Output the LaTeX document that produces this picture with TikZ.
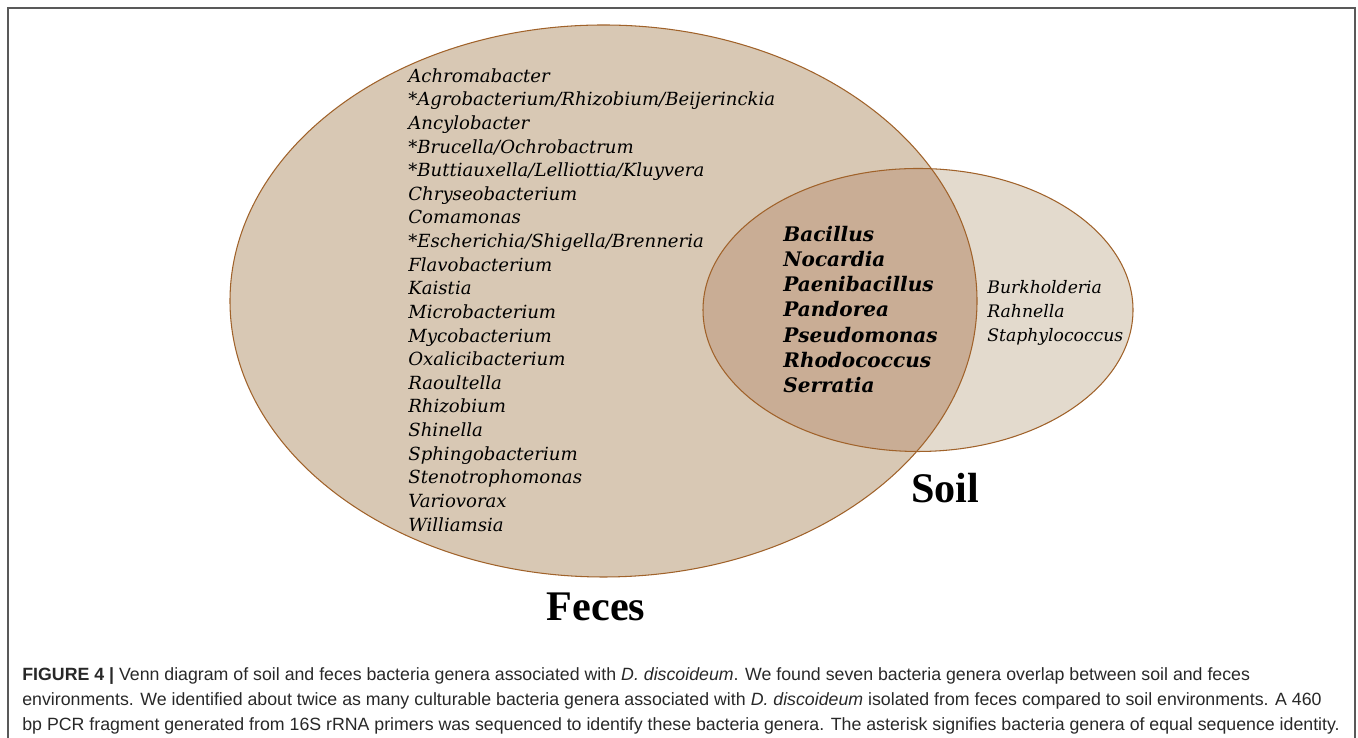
\documentclass[tikz,border=0pt]{standalone}
\usepackage{fontspec}
\setmainfont{DejaVu Serif}
\newfontfamily\capfont{Liberation Sans}
\newfontfamily\labfont{Liberation Serif}
\usepackage{xcolor}
\usepackage{tikz}
\usetikzlibrary{positioning}

\definecolor{fecesfill}{RGB}{216,200,180}
\definecolor{soilfill}{RGB}{227,218,205}
\definecolor{bothfill}{RGB}{201,173,149}
\definecolor{rimbrown}{RGB}{160,98,42}
\definecolor{captext}{RGB}{40,40,40}

\begin{document}
\begin{tikzpicture}[
		rim/.style={draw=rimbrown, line width=0.6pt},
		genus/.style={anchor=north west, inner sep=0pt, align=left,
			font=\fontsize{10.3}{13.45}\selectfont\itshape},
		shared/.style={anchor=north west, inner sep=0pt, align=left,
			font=\fontsize{11.4}{14.3}\selectfont\bfseries\itshape},
		setname/.style={inner sep=0pt, font=\labfont\fontsize{24}{24}\selectfont\bfseries}
		]
		
		\useasboundingbox (0,0) rectangle (27.16,14.76);
		
		% Frame
		\draw[gray!70!black, line width=1pt] (0.16,0) -- (0.16,14.6) -- (27.1,14.6) -- (27.1,0);
		
		% Sets
		\fill[fecesfill] (12.07,8.74) ellipse [x radius=7.47, y radius=5.52];
		\fill[soilfill] (18.36,8.56) ellipse [x radius=4.3, y radius=2.83];
		\begin{scope}
			\clip (12.07,8.74) ellipse [x radius=7.47, y radius=5.52];
			\fill[bothfill] (18.36,8.56) ellipse [x radius=4.3, y radius=2.83];
		\end{scope}
		\draw[rim] (12.07,8.74) ellipse [x radius=7.47, y radius=5.52];
		\draw[rim] (18.36,8.56) ellipse [x radius=4.3, y radius=2.83];
		
		% Feces only
		\node[genus] (fecesonly) at (8.16,13.40) {
			Achromabacter\\
			*Agrobacterium/Rhizobium/Beijerinckia\\
			Ancylobacter\\
			*Brucella/Ochrobactrum\\
			*Buttiauxella/Lelliottia/Kluyvera\\
			Chryseobacterium\\
			Comamonas\\
			*Escherichia/Shigella/Brenneria\\
			Flavobacterium\\
			Kaistia\\
			Microbacterium\\
			Mycobacterium\\
			Oxalicibacterium\\
			Raoultella\\
			Rhizobium\\
			Shinella\\
			Sphingobacterium\\
			Stenotrophomonas\\
			Variovorax\\
			Williamsia
		};
		
		% Both
		\node[shared] (overlap) at (15.66,10.24) {
			Bacillus\\
			Nocardia\\
			Paenibacillus\\
			Pandorea\\
			Pseudomonas\\
			Rhodococcus\\
			Serratia
		};
		
		% Soil only
		\node[genus, font=\fontsize{9.8}{13.4}\selectfont\itshape] (soilonly) at (19.74,9.15) {
			Burkholderia\\
			Rahnella\\
			Staphylococcus
		};
		
		% Set names
		\node[setname] (soil) at (18.9,5.0) {Soil};
		\node[setname] (feces) at (11.92,2.62) {Feces};
		
		% Caption
		\node[anchor=north west, inner sep=0pt, align=left, text=captext,
			font=\capfont\fontsize{10.1}{14.2}\selectfont] (caption) at (0.44,1.42) {
			\textbf{FIGURE 4 |} Venn diagram of soil and feces bacteria genera associated with \textit{D. discoideum}. We found seven bacteria genera overlap between soil and feces\\
			environments. We identified about twice as many culturable bacteria genera associated with \textit{D. discoideum} isolated from feces compared to soil environments. A 460\\
			bp PCR fragment generated from 16S rRNA primers was sequenced to identify these bacteria genera. The asterisk signifies bacteria genera of equal sequence identity.
		};
		
	\end{tikzpicture}
\end{document}
